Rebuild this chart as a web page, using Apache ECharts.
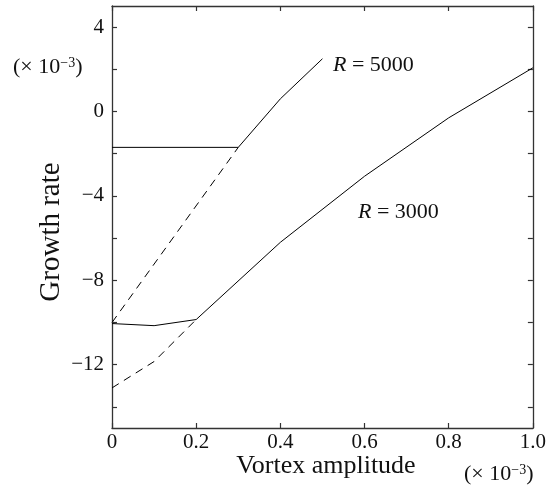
<!DOCTYPE html>
<html><head><meta charset="utf-8">
<script src="https://cdn.jsdelivr.net/npm/echarts@6/dist/echarts.min.js"></script>
<style>html,body{margin:0;padding:0;background:#fff}#c{width:549px;height:492px}</style>
</head><body><div id="c"></div>
<script>
var xTicks = [0, 0.2, 0.4, 0.6, 0.8, 1.0];
var yLabelTicks = [-12, -8, -4, 0, 4];
var yMinorTicks = [-14, -12, -10, -8, -6, -4, -2, 0, 2, 4];

var r5000SolidX = [0, 0.3, 0.4, 0.5];
var r5000SolidY = [-1.7, -1.7, 0.6, 2.5];
var r5000DashX = [0, 0.3];
var r5000DashY = [-10.0, -1.7];
var r3000SolidX = [0, 0.1, 0.2, 0.4, 0.6, 0.8, 1.0];
var r3000SolidY = [-10.05, -10.15, -9.86, -6.2, -3.07, -0.3, 2.07];
var r3000DashX = [0, 0.1, 0.2];
var r3000DashY = [-13.1, -11.85, -9.86];

function pairs(xs, ys){ return xs.map(function(x,i){return [x, ys[i]];}); }

var FONT = '"Liberation Serif", "DejaVu Serif", serif';
var AX = '#333';
var chart = echarts.init(document.getElementById('c'));
function lineSeries(xs, ys, dashed){
  return {type:'line', data:pairs(xs, ys), symbol:'none', silent:true,
    lineStyle:{color:'#000', width:1, type: dashed ? [8,6] : 'solid'}, xAxisIndex:0, yAxisIndex:0};
}
var sciRich = {
  n:{fontFamily:FONT, fontSize:22, color:'#111'},
  s:{fontFamily:FONT, fontSize:14, color:'#111', verticalAlign:'top', padding:[0,0,8,0]}
};
var rRich = {i:{fontFamily:FONT, fontStyle:'italic', fontSize:22, color:'#111'}};
chart.setOption({
  animation:false,
  grid:{left:112, right:14, top:6, bottom:64, show:false},
  xAxis:[{
    type:'value', min:0, max:1.0, interval:0.2, position:'bottom',
    axisLine:{show:true, onZero:false, lineStyle:{color:AX, width:1.3}},
    axisTick:{show:true, inside:true, length:5, lineStyle:{color:AX, width:1.2}},
    axisLabel:{fontFamily:FONT, fontSize:21, color:'#111', margin:4,
      formatter:function(v){ return v===0 ? '0' : v.toFixed(1); }},
    splitLine:{show:false}
  },{
    type:'value', min:0, max:1.0, interval:0.2, position:'top',
    axisLine:{show:true, onZero:false, lineStyle:{color:AX, width:1.3}},
    axisTick:{show:true, inside:true, length:5, lineStyle:{color:AX, width:1.2}},
    axisLabel:{show:false}, splitLine:{show:false}
  }],
  yAxis:[{
    type:'value', min:-15, max:5, position:'left',
    axisLine:{show:true, onZero:false, lineStyle:{color:AX, width:1.3}},
    axisTick:{show:true, inside:true, length:5, customValues:yMinorTicks, lineStyle:{color:AX, width:1.2}},
    axisLabel:{fontFamily:FONT, fontSize:21, color:'#111', margin:8, customValues:yLabelTicks,
      formatter:function(v){ return v<0 ? '\u2212'+Math.abs(v) : String(v); }},
    splitLine:{show:false}
  },{
    type:'value', min:-15, max:5, position:'right',
    axisLine:{show:true, onZero:false, lineStyle:{color:AX, width:1.3}},
    axisTick:{show:true, inside:true, length:5, customValues:yMinorTicks, lineStyle:{color:AX, width:1.2}},
    axisLabel:{show:false}, splitLine:{show:false}
  }],
  series:[
    lineSeries(r5000SolidX, r5000SolidY, false),
    lineSeries(r5000DashX, r5000DashY, true),
    lineSeries(r3000SolidX, r3000SolidY, false),
    lineSeries(r3000DashX, r3000DashY, true)
  ],
  graphic:[
    {type:'text', x:13, y:67, style:{text:'(\u00d7 {n|10}{s|\u22123})', font:'22px '+FONT, fill:'#111', verticalAlign:'middle', rich:sciRich}},
    {type:'text', x:464, y:474, style:{text:'(\u00d7 {n|10}{s|\u22123})', font:'22px '+FONT, fill:'#111', verticalAlign:'middle', rich:sciRich}},
    {type:'text', x:333, y:65, style:{text:'{i|R} = 5000', font:'22px '+FONT, fill:'#111', verticalAlign:'middle', rich:rRich}},
    {type:'text', x:358, y:212, style:{text:'{i|R} = 3000', font:'22px '+FONT, fill:'#111', verticalAlign:'middle', rich:rRich}},
    {type:'text', x:326, y:466, style:{text:'Vortex amplitude', font:'26px '+FONT, fill:'#111', align:'center', verticalAlign:'middle'}},
    {type:'text', x:51, y:232, rotation:Math.PI/2, style:{text:'Growth rate', font:'29px '+FONT, fill:'#111', align:'center', verticalAlign:'middle'}}
  ]
});
</script></body></html>
